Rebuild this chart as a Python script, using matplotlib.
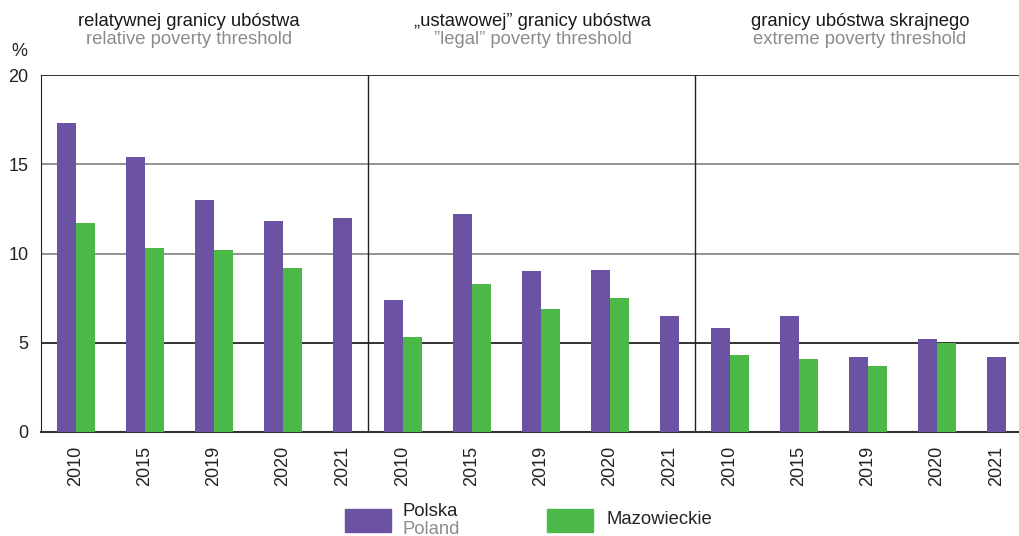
import numpy as np
import matplotlib.pyplot as plt
from matplotlib.patches import Rectangle

plt.rcParams["font.family"] = ["Liberation Sans", "DejaVu Sans"]

years = ["2010", "2015", "2019", "2020", "2021"]
titles_pl = ["relatywnej granicy ubóstwa", "\u201eustawowej\u201d granicy ubóstwa", "granicy ubóstwa skrajnego"]
titles_en = ["relative poverty threshold", "\u201dlegal\u201d poverty threshold", "extreme poverty threshold"]

polska = [
    [17.3, 15.4, 13.0, 11.8, 12.0],
    [7.4, 12.2, 9.0, 9.1, 6.5],
    [5.8, 6.5, 4.2, 5.2, 4.2],
]
mazowieckie = [
    [11.7, 10.3, 10.2, 9.2, np.nan],
    [5.3, 8.3, 6.9, 7.5, np.nan],
    [4.3, 4.1, 3.7, 5.0, np.nan],
]

PURPLE = "#6B52A3"
GREEN = "#4CB848"
GREY_TXT = "#8C8C8C"

group_w = 327 / 69
bar_w = 0.275
offset = 0.507

fig = plt.figure(figsize=(10.19, 5.36), dpi=100)
ax = fig.add_axes([41 / 1019, 104 / 536, 978 / 1019, 357 / 536])

tick_pos, tick_lab = [], []
for g in range(3):
    for j, yr in enumerate(years):
        c = g * group_w + offset + j
        p = polska[g][j]
        m = mazowieckie[g][j]
        ax.bar(c - bar_w / 2, p, width=bar_w, color=PURPLE, zorder=3)
        if np.isnan(m):
            tick_pos.append(c - bar_w / 2)
        else:
            ax.bar(c + bar_w / 2, m, width=bar_w, color=GREEN, zorder=3)
            tick_pos.append(c)
        tick_lab.append(yr)

# gridlines
for val, col in [(5, "#222222"), (10, "#8a8a8a"), (15, "#8a8a8a"), (20, "#222222")]:
    ax.axhline(val, color=col, lw=1.3, zorder=1)
for g in (1, 2):
    ax.axvline(g * group_w, color="#222222", lw=1.0, zorder=2)

ax.set_xlim(0, 978 / 69)
ax.set_ylim(0, 20)
ax.set_yticks([0, 5, 10, 15, 20])
ax.set_xticks(tick_pos)
ax.set_xticklabels(tick_lab, rotation=90, fontsize=13)
ax.tick_params(axis="both", length=0, labelsize=13, colors="#222222")
ax.tick_params(axis="y", pad=9)
ax.tick_params(axis="x", pad=10)
for s in ("top", "right"):
    ax.spines[s].set_visible(False)
ax.spines["left"].set_color("#222222")
ax.spines["bottom"].set_color("#333333")
ax.spines["bottom"].set_linewidth(1.5)

fig.text(19 / 1019, 1 - 51 / 536, "%", fontsize=13, ha="center", va="center", color="#222222")

# group titles
for x, t1, t2 in zip([189, 533, 860], titles_pl, titles_en):
    fig.text(x / 1019, 1 - 21 / 536, t1, fontsize=13.3, ha="center", va="center", color="#1a1a1a")
    fig.text(x / 1019, 1 - 40 / 536, t2, fontsize=13.3, ha="center", va="center", color=GREY_TXT)

# legend
fig.patches.append(Rectangle((345 / 1019, 1 - 532 / 536), 46 / 1019, 23 / 536,
                             transform=fig.transFigure, color=PURPLE))
fig.text(402 / 1019, 1 - 511 / 536, "Polska", fontsize=13.3, va="center", color="#222222")
fig.text(402 / 1019, 1 - 529 / 536, "Poland", fontsize=13.3, va="center", color=GREY_TXT)
fig.patches.append(Rectangle((547 / 1019, 1 - 532 / 536), 46 / 1019, 23 / 536,
                             transform=fig.transFigure, color=GREEN))
fig.text(607 / 1019, 1 - 520 / 536, "Mazowieckie", fontsize=13.3, va="center", color="#222222")

fig.savefig("out.png", dpi=100)
